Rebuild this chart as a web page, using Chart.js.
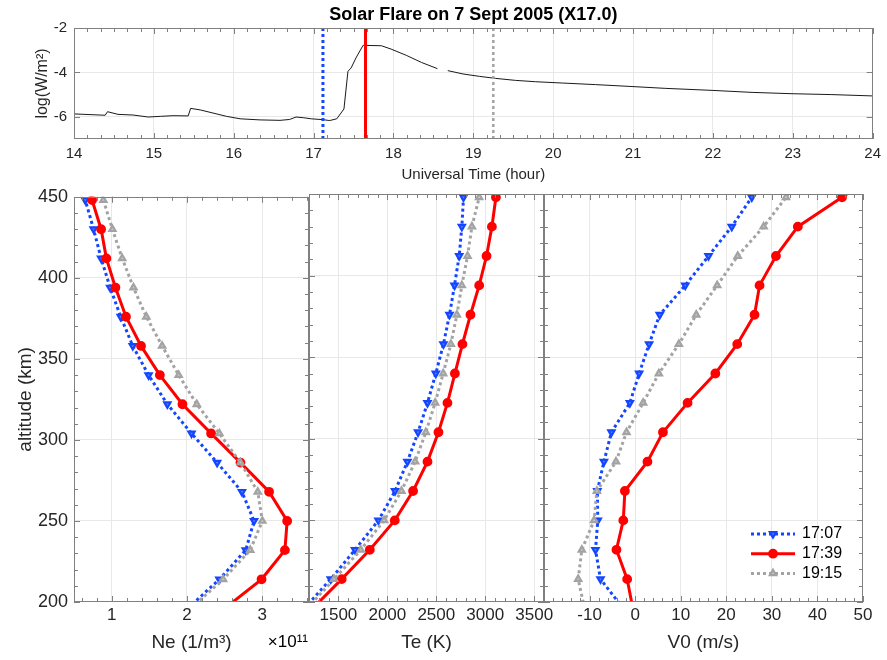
<!DOCTYPE html>
<html>
<head>
<meta charset="utf-8">
<script src="https://cdn.jsdelivr.net/npm/chart.js@4.4.0/dist/chart.umd.min.js"></script>
<style>
  html, body { margin: 0; padding: 0; background: #fff; }
  #wrap { position: relative; width: 887px; height: 660px; background: #fff; }
  canvas { position: absolute; left: 0; }
</style>
</head>
<body>
<div id="wrap">
  <canvas id="goes" width="887" height="190" style="top:0"></canvas>
  <canvas id="ne" width="887" height="480" style="top:180px"></canvas>
  <canvas id="te" width="887" height="480" style="top:180px"></canvas>
  <canvas id="v0" width="887" height="480" style="top:180px"></canvas>
</div>
<script>
// ---- data ----
// GOES-12 1-8A flux, log10(W/m2), null = data gap
const goesTime = [14.0, 14.39, 14.42, 14.55, 14.74, 14.93, 15.08, 15.24, 15.43, 15.46, 15.58, 15.74, 15.91,
  16.08, 16.33, 16.58, 16.70, 16.78, 16.87, 16.97, 17.12, 17.20, 17.29, 17.38, 17.43, 17.47, 17.53, 17.62,
  17.85, 17.97, 18.16, 18.35, 18.55, 18.61, 18.68, 18.87, 19.08, 19.28, 19.53, 19.78, 20.12, 20.53, 20.95,
  21.41, 21.99, 22.49, 22.99, 23.49, 24.0];
const goesLog = [-5.87, -5.93, -5.77, -5.89, -5.92, -6.01, -5.98, -5.95, -5.96, -5.62, -5.69, -5.83, -5.98,
  -6.09, -6.14, -6.16, -6.12, -6.01, -6.04, -6.09, -6.13, -6.17, -6.09, -5.65, -3.95, -3.80, -3.35, -2.78,
  -2.80, -2.95, -3.23, -3.55, -3.83, null, -3.92, -4.07, -4.18, -4.27, -4.36, -4.42, -4.48, -4.55, -4.63,
  -4.72, -4.81, -4.90, -4.96, -5.00, -5.06];
const profileTimes = ['17:07', '17:39', '19:15'];
const profileHours = [17.117, 17.65, 19.25];

const altitude = [196, 214, 232, 250, 268, 286, 304, 322, 340, 358, 376, 394, 412, 430, 448, 466];
// Ne in units of 1e11 m^-3
const ne1707 = [2.01, 2.43, 2.78, 2.89, 2.73, 2.40, 2.06, 1.74, 1.49, 1.28, 1.12, 0.98, 0.86, 0.76, 0.65, 0.55];
const ne1739 = [2.50, 2.99, 3.30, 3.33, 3.09, 2.71, 2.32, 1.94, 1.64, 1.39, 1.19, 1.05, 0.93, 0.86, 0.74, 0.62];
const ne1915 = [2.05, 2.48, 2.84, 3.00, 2.94, 2.71, 2.43, 2.13, 1.89, 1.67, 1.46, 1.29, 1.14, 1.01, 0.89, 0.77];
// Te (K)
const te1707 = [1150, 1422, 1670, 1909, 2079, 2205, 2314, 2410, 2495, 2573, 2635, 2686, 2734, 2761, 2778, 2790];
const te1739 = [1236, 1534, 1821, 2076, 2263, 2410, 2522, 2614, 2690, 2767, 2849, 2938, 3013, 3068, 3109, 3150];
const te1915 = [1180, 1456, 1729, 1967, 2144, 2284, 2393, 2488, 2570, 2649, 2710, 2761, 2819, 2864, 2938, 2990];
// V0 (m/s)
const v1707 = [-2.6, -7.6, -8.7, -8.2, -8.3, -6.85, -5.2, -1.16, 0.88, 3.06, 5.4, 11.0, 16.1, 21.2, 25.6, 30.0];
const v1739 = [-0.5, -1.75, -4.1, -2.6, -2.25, 2.7, 6.1, 11.5, 17.6, 22.4, 26.2, 27.3, 30.9, 35.7, 45.4, 55.0];
const v1915 = [-11.1, -12.5, -11.7, -9.0, -8.4, -4.2, -1.9, 1.75, 5.2, 9.6, 13.4, 18.0, 22.5, 28.2, 33.1, 38.0];

const goesTicks = [14, 15, 16, 17, 18, 19, 20, 21, 22, 23, 24];
const goesYTicks = [-2, -4, -6];
const altTicks = [200, 250, 300, 350, 400, 450];
const neTicks = [1, 2, 3];
const teTicks = [1500, 2000, 2500, 3000, 3500];
const vTicks = [-10, 0, 10, 20, 30, 40, 50];

// ---- look ----
Chart.defaults.font.family = "'Liberation Sans', Arial, Helvetica, sans-serif";
Chart.defaults.color = '#262626';
Chart.defaults.animation = false;

const BLUE = '#1446ff', RED = '#ff0000', GRAY = '#a3a3a3';
const BOX = '#808080', GRID = '#e8e8e8';
const lineStyles = [
  { color: BLUE, dash: [3, 3], style: 'triangle', rot: 180, face: '#5b80ff', r: 3.6, vw: 3, order: 2 },
  { color: RED, dash: [], style: 'circle', rot: 0, face: RED, r: 3.8, vw: 3, order: 1 },
  { color: GRAY, dash: [3, 3], style: 'triangle', rot: 0, face: '#c8c8c8', r: 3.6, vw: 2.5, order: 0 }
];

const gridColor = (c) => (c.tick.value <= c.scale.min || c.tick.value >= c.scale.max) ? 'rgba(0,0,0,0)' : GRID;
const setTicks = (vals) => (s) => { s.ticks = vals.map(v => ({ value: v })); };

// box outline with inward major / minor ticks on all four sides
const boxTicks = {
  id: 'boxTicks',
  afterDraw(chart, args, o) {
    const { ctx, chartArea: a, scales: { x, y } } = chart;
    const range = (s, st) => { const r = []; for (let v = st.from; v <= s.max + 1e-9; v += st.step) r.push(v); return r; };
    ctx.save();
    ctx.strokeStyle = BOX;
    ctx.lineWidth = 1;
    ctx.beginPath();
    const tx = (vals, len) => vals.forEach(v => {
      const p = Math.round(x.getPixelForValue(v)) + 0.5;
      ctx.moveTo(p, a.top); ctx.lineTo(p, a.top + len);
      ctx.moveTo(p, a.bottom); ctx.lineTo(p, a.bottom - len);
    });
    const ty = (vals, len) => vals.forEach(v => {
      const p = Math.round(y.getPixelForValue(v)) + 0.5;
      ctx.moveTo(a.left, p); ctx.lineTo(a.left + len, p);
      ctx.moveTo(a.right, p); ctx.lineTo(a.right - len, p);
    });
    if (o.xMinor) tx(range(x, o.xMinor), 4);
    if (o.yMinor) ty(range(y, o.yMinor), 4);
    tx(x.ticks.map(t => t.value), 6);
    ty(y.ticks.map(t => t.value), 6);
    ctx.stroke();
    ctx.strokeRect(Math.round(a.left) + 0.5, Math.round(a.top) + 0.5,
      Math.round(a.right - a.left) - 1, Math.round(a.bottom - a.top) - 1);
    ctx.restore();
  }
};

// free text inside or around the axes
const notes = {
  id: 'notes',
  afterDraw(chart, args, o) {
    const { ctx, scales: { x, y } } = chart;
    ctx.save();
    (o.items || []).forEach(n => {
      const px = n.at ? n.at(chart)[0] : x.getPixelForValue(n.x);
      const py = n.at ? n.at(chart)[1] : y.getPixelForValue(n.y);
      ctx.font = n.font || "15px 'Liberation Sans', Arial, sans-serif";
      ctx.fillStyle = '#000';
      ctx.textAlign = n.align || 'center';
      ctx.textBaseline = 'middle';
      ctx.fillText(n.text, px, py);
    });
    ctx.restore();
  }
};

// legend: line sample + marker + label, no box
const lineLegend = {
  id: 'lineLegend',
  afterDraw(chart, args, o) {
    if (!o.show) return;
    const { ctx, chartArea: a } = chart;
    ctx.save();
    chart.data.datasets.forEach((ds, i) => {
      const yy = a.bottom - 68 + i * 19.7;
      const x0 = a.right - 112, x1 = a.right - 68;
      ctx.strokeStyle = ds.borderColor;
      ctx.lineWidth = ds.borderWidth;
      ctx.setLineDash(ds.borderDash);
      ctx.beginPath(); ctx.moveTo(x0, yy); ctx.lineTo(x1, yy); ctx.stroke();
      ctx.setLineDash([]);
      ctx.fillStyle = ds.pointBackgroundColor;
      ctx.strokeStyle = ds.borderColor;
      ctx.lineWidth = ds.pointBorderWidth;
      Chart.helpers.drawPoint(ctx, { pointStyle: ds.pointStyle, rotation: ds.pointRotation,
        radius: ds.pointRadius, borderWidth: ds.pointBorderWidth }, (x0 + x1) / 2, yy);
      ctx.fillStyle = '#000';
      ctx.font = "16px 'Liberation Sans', Arial, sans-serif";
      ctx.textAlign = 'left';
      ctx.textBaseline = 'middle';
      ctx.fillText(ds.label, a.right - 61, yy);
    });
    ctx.restore();
  }
};

// main title above the GOES panel
const mainTitle = {
  id: 'mainTitle',
  afterDraw(chart, args, o) {
    if (!o.text) return;
    const { ctx, chartArea: a } = chart;
    ctx.save();
    ctx.font = "bold 18px 'Liberation Sans', Arial, sans-serif";
    ctx.fillStyle = '#000';
    ctx.textAlign = 'center';
    ctx.textBaseline = 'middle';
    ctx.fillText(o.text, (a.left + a.right) / 2, 15);
    ctx.restore();
  }
};

// ---- GOES panel (d) ----
const goesSets = [{
  data: goesTime.map((t, i) => ({ x: t, y: goesLog[i] })),
  borderColor: '#1a1a1a', borderWidth: 1, pointRadius: 0, spanGaps: false, order: 5
}];
profileHours.forEach((h, i) => {
  goesSets.push({
    data: [{ x: h, y: -7 }, { x: h, y: -2 }],
    borderColor: lineStyles[i].color, borderWidth: lineStyles[i].vw, borderDash: lineStyles[i].dash,
    pointRadius: 0, order: lineStyles[i].order
  });
});

new Chart(document.getElementById('goes'), {
  type: 'line',
  data: { datasets: goesSets },
  options: {
    responsive: false, devicePixelRatio: 1,
    layout: { padding: { top: 28, right: 13, bottom: 0, left: 0 } },
    plugins: {
      legend: { display: false }, tooltip: { enabled: false },
      boxTicks: { xMinor: { from: 14, step: 1 / 6 } },
      mainTitle: { text: 'Solar Flare on 7 Sept 2005 (X17.0)' },
      notes: { items: [
        { text: '1-8A GOES-12', x: 14.31, y: -3.08, align: 'left' },
        { text: '(d)', x: 23.1, y: -3.08 }
      ] }
    },
    scales: {
      x: {
        type: 'linear', min: 14, max: 24,
        afterBuildTicks: setTicks(goesTicks),
        afterFit: (s) => { s.height = 51; },
        grid: { color: gridColor, drawTicks: false }, border: { display: false },
        ticks: { font: { size: 15 }, padding: 6, autoSkip: false, maxRotation: 0, callback: (v) => String(v) },
        title: { display: true, text: 'Universal Time (hour)', font: { size: 15 }, padding: { top: 0, bottom: 6 } }
      },
      y: {
        type: 'linear', min: -7, max: -2,
        afterBuildTicks: setTicks(goesYTicks),
        afterFit: (s) => { s.width = 74; },
        grid: { color: gridColor, drawTicks: false }, border: { display: false },
        ticks: { font: { size: 15 }, padding: 7, callback: (v) => String(v) },
        title: { display: true, text: 'log(W/m²)', font: { size: 16 }, padding: { top: 33, bottom: 0 } }
      }
    }
  },
  plugins: [boxTicks, notes, mainTitle]
});

// ---- profile panels (a) (b) (c) ----
function profilePanel(id, series, cfg) {
  const datasets = series.map((vals, i) => {
    const st = lineStyles[i];
    return {
      label: profileTimes[i],
      data: vals.map((v, k) => ({ x: v, y: altitude[k] })),
      borderColor: st.color, borderWidth: 3, borderDash: st.dash, borderCapStyle: 'butt',
      pointStyle: st.style, pointRotation: st.rot, pointRadius: st.r,
      pointBackgroundColor: st.face, pointBorderColor: st.color, pointBorderWidth: 2.2,
      order: st.order, clip: 0
    };
  });
  const first = cfg.first;
  return new Chart(document.getElementById(id), {
    type: 'line',
    data: { datasets },
    options: {
      responsive: false, devicePixelRatio: 1,
      layout: { padding: { top: 14, right: cfg.right, bottom: 0, left: cfg.left } },
      plugins: {
        legend: { display: false }, tooltip: { enabled: false },
        boxTicks: { xMinor: cfg.minor, yMinor: { from: 200, step: 10 } },
        notes: { items: cfg.notes },
        lineLegend: { show: !!cfg.legend }
      },
      scales: {
        x: {
          type: 'linear', min: cfg.min, max: cfg.max,
          afterBuildTicks: setTicks(cfg.ticks),
          afterFit: (s) => { s.height = 58; },
          grid: { color: gridColor, drawTicks: false }, border: { display: false },
          ticks: { font: { size: 17 }, padding: 3, autoSkip: false, maxRotation: 0, callback: (v) => String(v) },
          title: { display: true, text: cfg.title, font: { size: 19 }, padding: { top: 0, bottom: 6 } }
        },
        y: {
          type: 'linear', min: 200, max: 450,
          afterBuildTicks: setTicks(altTicks),
          afterFit: (s) => { s.width = first ? 74 : 0; },
          grid: { color: gridColor, drawTicks: false }, border: { display: false },
          ticks: { display: first, font: { size: 18 }, padding: 6, callback: (v) => String(v) },
          title: { display: first, text: 'altitude (km)', font: { size: 19 }, padding: { top: 14, bottom: 0 } }
        }
      }
    },
    plugins: [boxTicks, notes, lineLegend]
  });
}

profilePanel('ne', [ne1707, ne1739, ne1915], {
  first: true, left: 0, right: 578, min: 0.5, max: 3.62, ticks: neTicks,
  minor: { from: 0.6, step: 0.2 }, title: 'Ne (1/m³)',
  notes: [
    { text: '(a)', x: 3.11, y: 434.5 },
    { text: '×10¹¹', at: (c) => [c.chartArea.right - 1, c.chartArea.bottom + 40], align: 'right',
      font: "17px 'Liberation Sans', Arial, sans-serif" }
  ]
});
profilePanel('te', [te1707, te1739, te1915], {
  first: false, left: 309, right: 343, min: 1200, max: 3600, ticks: teTicks,
  minor: { from: 1200, step: 100 }, title: 'Te (K)',
  notes: [{ text: '(b)', x: 1565, y: 434.5 }]
});
profilePanel('v0', [v1707, v1739, v1915], {
  first: false, left: 544, right: 24, min: -20, max: 50, ticks: vTicks,
  minor: { from: -20, step: 2 }, title: 'V0 (m/s)', legend: true,
  notes: [{ text: '(c)', x: -10.3, y: 434.5 }]
});
</script>
</body>
</html>
